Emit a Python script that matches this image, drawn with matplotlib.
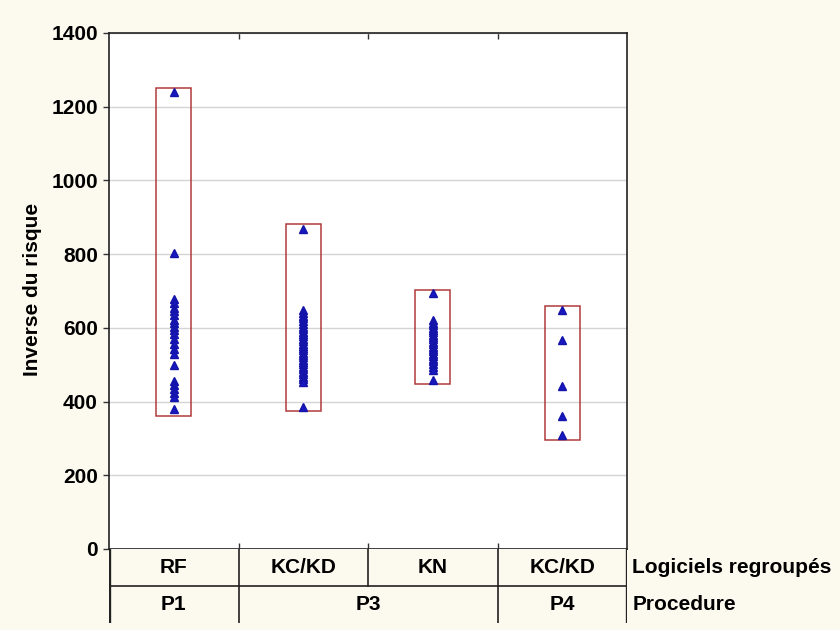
import matplotlib.pyplot as plt

plt.rcParams['font.family'] = ['Liberation Sans', 'DejaVu Sans']
plt.rcParams['font.weight'] = 'bold'

# groups (x order) and their two header rows
software = ['RF', 'KC/KD', 'KN', 'KC/KD']
procedure = ['P1', 'P3', 'P4']
procedure_span = [(0, 1), (1, 3), (3, 4)]   # which columns each procedure covers

# "Inverse du risque" values
rf_p1 = [1241, 804, 678, 667, 654, 645, 636, 622, 612, 603, 594, 582,
         570, 555, 543, 528, 499, 456, 445, 434, 423, 412, 380]
kckd_p3 = [868, 648, 640, 633, 626, 618, 611, 603, 597, 590, 584, 577,
           570, 564, 557, 551, 545, 539, 532, 526, 520, 514, 507, 501,
           494, 488, 481, 474, 467, 460, 454, 385]
kn_p3 = [695, 622, 614, 607, 600, 594, 588, 581, 575, 569, 562, 556,
         549, 543, 536, 530, 523, 516, 509, 502, 494, 487, 458]
kckd_p4 = [649, 568, 441, 360, 308]

# red range boxes
box_low = [362, 374, 449, 297]
box_high = [1252, 882, 703, 658]

yticks = [0, 200, 400, 600, 800, 1000, 1200, 1400]

groups = [rf_p1, kckd_p3, kn_p3, kckd_p4]

bg = '#fcf9ef'
fs = 15
fig = plt.figure(figsize=(8.4, 6.3), dpi=100, facecolor=bg)

W, H = 840, 630
x0, x1 = 109, 627
y_top, y_axis_bot, y_tab_bot = 33, 549, 623
ax = fig.add_axes([x0 / W, 1 - y_axis_bot / H, (x1 - x0) / W, (y_axis_bot - y_top) / H])
ax.set_facecolor('white')

# boxes
heights = [h - l for l, h in zip(box_low, box_high)]
ax.bar(range(len(groups)), heights, bottom=box_low, width=0.27, fill=False,
       edgecolor='#b03a3a', linewidth=1.1, zorder=3)

# points
for i, vals in enumerate(groups):
    ax.plot([i] * len(vals), vals, linestyle='none', marker='^', markersize=6,
            color='#1818c0', markeredgecolor='#1414a8', zorder=4)

ax.set_xlim(-0.5, len(groups) - 0.5)
ax.set_ylim(0, 1400)
ax.set_yticks(yticks)
ax.set_yticklabels([str(t) for t in yticks], fontsize=fs, fontweight='bold')
ax.tick_params(axis='y', direction='out', length=4, width=1, pad=4, color='#333333')
ax.set_xticks([0.5, 1.5, 2.5])
ax.set_xticklabels([])
ax.tick_params(axis='x', which='both', direction='in', length=4, width=1,
               top=True, bottom=True, color='#333333')
ax.grid(axis='y', color='#d4d4d4', linewidth=1)
ax.set_axisbelow(True)
for s in ax.spines.values():
    s.set_color('#222222')
    s.set_linewidth(1.2)

fig.text(33 / W, 1 - 289 / H, 'Inverse du risque', rotation=90, ha='center',
         va='center', fontsize=fs, fontweight='bold')

# header table below the axis
tab = fig.add_axes([x0 / W, 1 - y_tab_bot / H, (x1 - x0) / W, (y_tab_bot - y_axis_bot) / H])
tab.set_xlim(-0.5, len(groups) - 0.5)
tab.set_ylim(0, 2)
tab.set_facecolor(bg)
for s in tab.spines.values():
    s.set_visible(False)
tab.set_xticks([])
tab.set_yticks([])
lc = '#222222'
tab.axhline(1, color=lc, linewidth=1.2)
tab.axvline(-0.5, color=lc, linewidth=2.4)
tab.axvline(len(groups) - 0.5, color=lc, linewidth=2.4)
for b in [0.5, 1.5, 2.5]:
    tab.plot([b, b], [1, 2], color=lc, linewidth=1.2)
for a, b in procedure_span[:-1]:
    tab.plot([b - 0.5, b - 0.5], [0, 1], color=lc, linewidth=1.2)
for i, name in enumerate(software):
    tab.text(i, 1.5, name, ha='center', va='center', fontsize=fs, fontweight='bold')
for name, (a, b) in zip(procedure, procedure_span):
    tab.text((a + b - 1) / 2, 0.5, name, ha='center', va='center', fontsize=fs,
             fontweight='bold')
tab.text(len(groups) - 0.46, 1.5, 'Logiciels regroupés', ha='left', va='center',
         fontsize=fs, fontweight='bold', clip_on=False)
tab.text(len(groups) - 0.46, 0.5, 'Procedure', ha='left', va='center',
         fontsize=fs, fontweight='bold', clip_on=False)

fig.savefig('out.png', dpi=100, facecolor=bg)
